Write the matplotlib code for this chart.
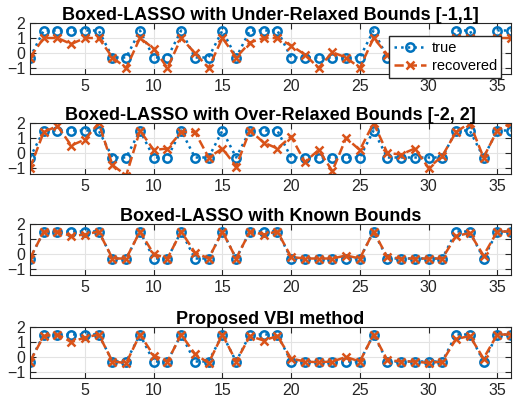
import numpy as np
import matplotlib.pyplot as plt

plt.rcParams['font.family'] = ['Liberation Sans', 'DejaVu Sans']

idx = np.arange(1, 37)

true_sig = [-0.3, 1.5, 1.5, 1.5, 1.5, 1.5, -0.3, -0.3, 1.5, -0.3, -0.3, 1.5,
            -0.3, -0.3, 1.5, -0.3, 1.5, 1.5, 1.5, -0.3, -0.3, -0.3, -0.3, -0.3,
            -0.3, 1.5, -0.3, -0.3, -0.3, -0.3, -0.3, 1.5, 1.5, -0.3, 1.5, 1.5]

rec_under = [-0.3, 1.0, 1.0, 0.6, 1.0, 1.0, -0.3, -1.0, 1.0, 0.3, -1.0, 1.0,
             0.0, -1.0, 1.0, -0.3, 0.7, 1.0, 1.0, 0.5, -0.1, -1.0, 0.05, -0.3,
             -1.0, 1.0, -0.1, -0.2, -0.3, -0.4, -0.3, 1.0, 1.0, -0.2, 1.0, 1.0]

rec_over = [-1.0, 1.4, 1.8, 0.5, 0.9, 2.0, -0.8, -1.5, 1.5, 0.2, 0.3, 1.4,
            1.4, -0.3, 0.3, -0.9, 1.5, 0.7, 0.3, 1.1, -0.6, 0.2, -1.2, 1.0,
            0.2, 2.0, 0.0, -0.1, 0.3, -1.0, -0.2, 1.4, 2.0, -0.3, 1.5, 2.0]

rec_known = [-0.3, 1.5, 1.5, 1.2, 1.3, 1.5, -0.3, -0.3, 1.5, 0.0, -0.3, 1.5,
             0.1, -0.3, 1.5, -0.3, 1.5, 1.3, 1.5, -0.2, -0.3, -0.3, -0.3, -0.1,
             -0.3, 1.5, -0.2, -0.3, -0.3, -0.3, -0.3, 1.2, 1.4, -0.1, 1.5, 1.5]

rec_vbi = [-0.3, 1.4, 1.5, 1.0, 1.3, 1.5, -0.3, -0.4, 1.5, 0.1, -0.3, 1.5,
           0.2, -0.4, 1.5, -0.3, 1.4, 1.1, 1.4, -0.1, -0.3, -0.35, -0.3, 0.0,
           -0.3, 1.5, -0.2, -0.3, -0.3, -0.4, -0.3, 1.2, 1.4, -0.1, 1.5, 1.5]

titles = ["Boxed-LASSO with Under-Relaxed Bounds [-1,1]",
          "Boxed-LASSO with Over-Relaxed Bounds [-2, 2]",
          "Boxed-LASSO with Known Bounds",
          "Proposed VBI method"]
recovered = [rec_under, rec_over, rec_known, rec_vbi]

blue = '#0072BD'
orange = '#D95319'

fig = plt.figure(figsize=(5.21, 4.08), dpi=100)
W, H = 521, 408
tops = [23, 123, 224, 327]
ax_h = 51
for i, (title, rec) in enumerate(zip(titles, recovered)):
    ax = fig.add_axes([30 / W, 1 - (tops[i] + ax_h) / H, 481 / W, ax_h / H])
    ax.plot(idx, true_sig, linestyle=':', color=blue, linewidth=1.8,
            marker='o', markersize=6, markerfacecolor='none',
            markeredgewidth=1.8, label='true')
    ax.plot(idx, rec, linestyle='--', color=orange, linewidth=1.8,
            marker='x', markersize=6, markeredgewidth=1.8, label='recovered')
    ax.set_xlim(1, 36)
    ax.set_ylim(-1.4, 2)
    ax.set_xticks([5, 10, 15, 20, 25, 30, 35])
    ax.set_yticks([-1, 0, 1, 2])
    ax.grid(True, color='#e3e3e3', linewidth=0.8)
    ax.tick_params(direction='in', labelsize=11.5, colors='#262626',
                   top=True, right=True, length=4)
    for s in ax.spines.values():
        s.set_color('#262626')
        s.set_linewidth(0.8)
    ax.set_title(title, fontsize=13, fontweight='bold', pad=2)
    if i == 0:
        ax.legend(loc='upper right', fontsize=10.5, framealpha=1,
                  edgecolor='#262626', fancybox=False, handlelength=2.2,
                  borderpad=0.3, labelspacing=0.3, handletextpad=0.4,
                  bbox_to_anchor=(0.995, 0.88))

fig.savefig('out.png', dpi=100)
